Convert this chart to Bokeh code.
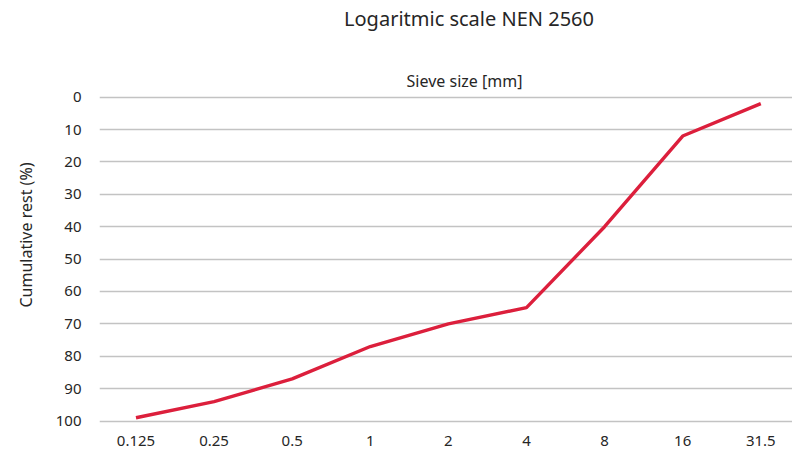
from bokeh.plotting import figure
from bokeh.models import Range1d, FixedTicker, Label, Title
from bokeh.embed import file_html
from bokeh.resources import INLINE

# Sieve sizes (mm) on a logarithmic, evenly spaced scale, and cumulative rest (%)
sieve_sizes = ["0.125", "0.25", "0.5", "1", "2", "4", "8", "16", "31.5"]
cumulative_rest = [99, 94, 87, 77, 70, 65, 40, 12, 2]
y_ticks = [0, 10, 20, 30, 40, 50, 60, 70, 80, 90, 100]

FONT = "Noto Sans"
TEXT = "#262626"

positions = list(range(len(sieve_sizes)))

# the frame runs to the top of the page so the headings can sit inside it
p = figure(
    width=792, height=457,
    output_backend="svg", toolbar_location=None,
    x_range=Range1d(-0.467, 8.406),
    y_range=Range1d(101.08, -29.86),
    min_border_left=99, min_border_right=0,
    min_border_top=0, min_border_bottom=33,
)
p.outline_line_color = None
p.background_fill_color = "white"
p.border_fill_color = "white"

# x axis: one tick per sieve size
p.xaxis.ticker = FixedTicker(ticks=positions)
p.xaxis.major_label_overrides = {i: s for i, s in enumerate(sieve_sizes)}
p.xaxis.axis_line_color = None
p.xaxis.major_tick_line_color = None
p.xaxis.minor_tick_line_color = None
p.xaxis.major_label_standoff = 5
p.xaxis.major_label_text_font = FONT
p.xaxis.major_label_text_font_size = "15px"
p.xaxis.major_label_text_color = TEXT

# y axis: reversed percentage scale
p.yaxis.ticker = FixedTicker(ticks=y_ticks)
p.yaxis.axis_line_color = None
p.yaxis.major_tick_line_color = None
p.yaxis.minor_tick_line_color = None
p.yaxis.major_label_standoff = 12
p.yaxis.major_label_text_font = FONT
p.yaxis.major_label_text_font_size = "15px"
p.yaxis.major_label_text_color = TEXT

p.xgrid.grid_line_color = None
p.ygrid.grid_line_color = "#c3c3c3"
p.ygrid.grid_line_width = 1.6

p.line(positions, cumulative_rest, line_color="#dc1f3c", line_width=3.4,
       line_join="round")

# headings
p.add_layout(Label(x=4.264, y=-24.3,
                   text="Logaritmic scale NEN 2560", text_font=FONT,
                   text_font_size="20px", text_color=TEXT,
                   text_align="center", text_baseline="middle"))
p.add_layout(Label(x=4.206, y=-4.85,
                   text="Sieve size [mm]", text_font=FONT,
                   text_font_size="16px", text_color=TEXT,
                   text_align="center", text_baseline="middle"))

# y-axis caption, starting a little above the bottom of the frame
p.add_layout(Title(text="Cumulative rest (%)", align="left", offset=117,
                   standoff=28, vertical_align="top", text_font=FONT,
                   text_font_size="16px", text_font_style="normal",
                   text_color=TEXT), "left")

open("out.html", "w").write(file_html(p, INLINE))
